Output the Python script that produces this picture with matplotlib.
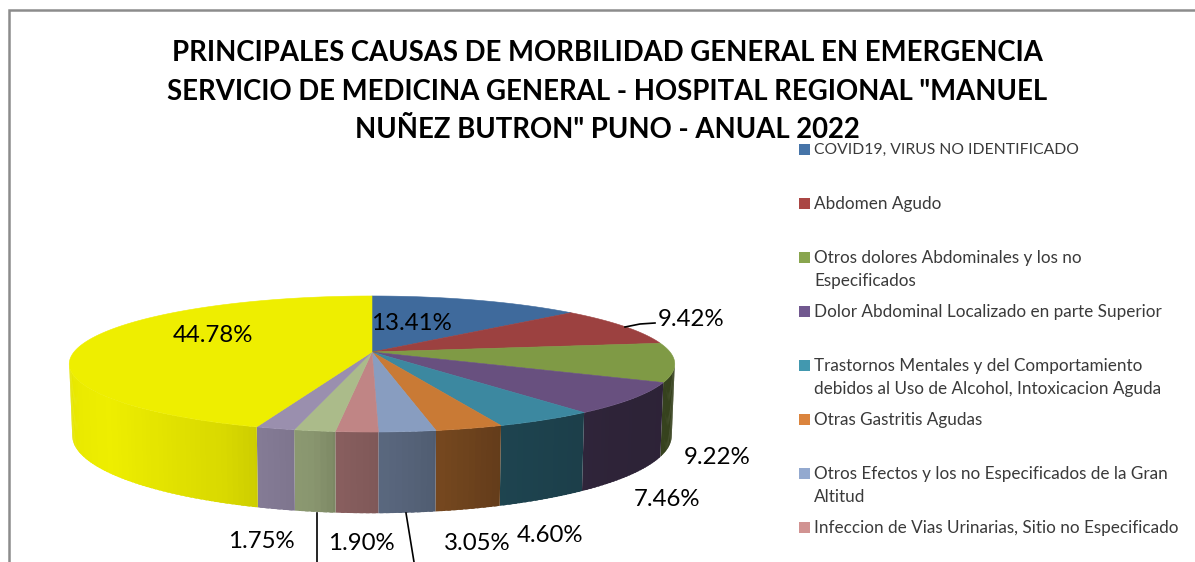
import numpy as np
import matplotlib
matplotlib.use("Agg")
import matplotlib.pyplot as plt
from matplotlib.patches import Polygon, Rectangle

# ---------- data ----------
slice_values = [13.41, 9.42, 9.22, 7.46, 4.60, 3.05, 2.56, 1.90, 1.85, 1.75, 44.78]
top_colors = ["#3F6A9C", "#9C4140", "#7F9A45", "#68507F", "#3C88A0", "#C97A35",
              "#889DC0", "#C08585", "#ABBB8A", "#9A8FAE", "#EEEE00"]
legend_names = ["COVID19, VIRUS NO IDENTIFICADO",
                "Abdomen Agudo",
                "Otros dolores Abdominales y los no\nEspecificados",
                "Dolor Abdominal Localizado en parte Superior",
                "Trastornos Mentales y del Comportamiento\ndebidos al Uso de Alcohol, Intoxicacion Aguda",
                "Otras Gastritis Agudas",
                "Otros Efectos y los no Especificados de la Gran\nAltitud",
                "Infeccion de Vias Urinarias, Sitio no Especificado"]
legend_colors = ["#4674A8", "#AA4644", "#89A54E", "#71588F",
                 "#4298AF", "#DB843D", "#93A9CF", "#D19392"]
title_lines = ["PRINCIPALES CAUSAS DE MORBILIDAD GENERAL EN EMERGENCIA",
               'SERVICIO DE MEDICINA GENERAL - HOSPITAL REGIONAL "MANUEL',
               'NUÑEZ BUTRON" PUNO - ANUAL 2022']
# shown labels: slice index -> pixel position of label centre
label_slices = [0, 1, 2, 3, 4, 5, 7, 9, 10]
label_xy = [(411, 324), (691, 320), (717, 457), (667, 500), (550, 535),
            (477, 543), (361, 544), (261, 541), (213, 336)]

# ---------- geometry ----------
W, H = 1195, 562
CX, CY, A, B, K = 372, 352, 298, 65.9, 0.1765
BOT_CY, BOT_SX, BOT_SY = 422, 0.99, 1.14


def rim(theta_deg, cy=CY, sx=1.0, sy=1.0):
    t = np.radians(theta_deg)
    X, Y = np.sin(t), np.cos(t)
    w = 1 + K * Y
    return CX + sx * A * X / w, cy - sy * B * Y / w


def side_shade(theta):
    return np.interp(theta,
                     [100, 135, 160, 175, 185, 190, 195, 199, 205, 222, 232, 245, 260],
                     [.42, .44, .50, .63, .70, .80, .83, .86, .91, .97, 1.0, .985, .96])


fig = plt.figure(figsize=(W / 100, H / 100), dpi=100, facecolor="white")
ax = fig.add_axes([0, 0, 1, 1])
ax.set_xlim(0, W)
ax.set_ylim(H, 0)
ax.axis("off")
plt.rcParams["font.family"] = ["Lato", "DejaVu Sans"]

# frame
ax.plot([9, 9, W], [H, 10, 10], color="#8C8C8C", lw=1.8, solid_joinstyle="miter")

# pie sides: strips drawn in order, each one overlapping the previous
edges = np.concatenate([[0], np.cumsum(slice_values)]) / np.sum(slice_values) * 360
for i, col in enumerate(top_colors):
    a0, a1 = edges[i], edges[i + 1]
    lo, hi = max(a0, 100), min(a1, 260)
    if hi > lo:
        for s0 in np.arange(lo, hi, 1.0):
            s1 = min(s0 + 1.0, hi)
            th = np.linspace(max(s0 - 0.6, lo), s1, 3)
            x_t, y_t = rim(th)
            x_b, y_b = rim(th[::-1], BOT_CY, BOT_SX, BOT_SY)
            rgb = np.array(matplotlib.colors.to_rgb(col)) * side_shade((s0 + s1) / 2)
            ax.add_patch(Polygon(np.column_stack([np.r_[x_t, x_b], np.r_[y_t, y_b]]),
                                 closed=True, fc=rgb, ec="none"))
# pie top
for i, col in enumerate(top_colors):
    th = np.linspace(edges[i], edges[i + 1], max(int(edges[i + 1] - edges[i]) * 2, 3))
    x, y = rim(th)
    ax.add_patch(Polygon(np.column_stack([np.r_[CX, x], np.r_[CY, y]]),
                         closed=True, fc=col, ec=col, lw=0.4))

# leader lines
ax.plot([625, 640, 655], [327, 324, 323], color="black", lw=1.2)
ax.plot([317, 317], [513, H], color="black", lw=1.2)
ax.plot([406, 414], [513, H], color="black", lw=1.2)

# data labels
for idx, (lx, ly) in zip(label_slices, label_xy):
    ax.text(lx, ly, f"{slice_values[idx]:.2f}%", ha="center", va="center",
            fontsize=17.3, color="black")

# title
for line, ty in zip(title_lines, [53, 92, 130]):
    ax.text(607, ty, line, ha="center", va="center", fontsize=19.8,
            fontweight="bold", color="black")

# legend
for i, (name, col) in enumerate(zip(legend_names, legend_colors)):
    ly = 149 + 54 * i
    ax.add_patch(Rectangle((799, ly - 5.5), 11, 11, fc=col, ec="none"))
    size = 11.3 if name.isupper() else 12.3
    for j, part in enumerate(name.split("\n")):
        ax.text(814, ly + 1 + 23 * j, part, ha="left", va="center",
                fontsize=size, color="#3A3A3A")

fig.savefig("out.png", dpi=100, facecolor="white")
